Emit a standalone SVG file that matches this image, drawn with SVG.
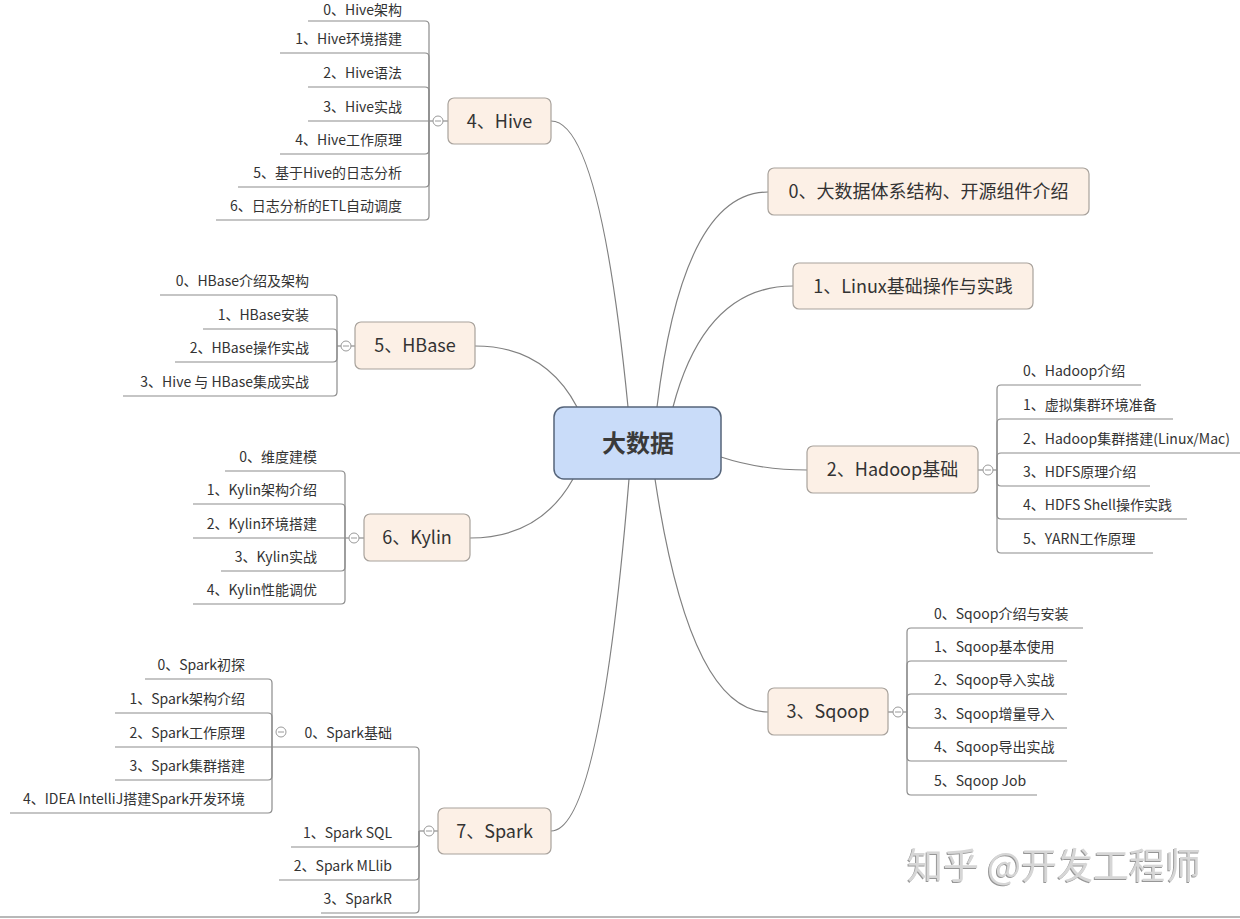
<svg xmlns="http://www.w3.org/2000/svg" width="1240" height="919" viewBox="0 0 1240 919">
<style>
text { font-family: "Noto Sans CJK SC", "Noto Sans", "Liberation Sans", sans-serif; fill: #333; }
.box { fill: #fcf0e6; stroke: #a8a29c; stroke-width: 1.2; }
.t1 { font-size: 18px; text-anchor: middle; }
.t2 { font-size: 14px; }
.l { text-anchor: end; }
.conn path { fill: none; stroke: #808080; stroke-width: 1.2; }
.sub path { fill: none; stroke: #8c8c8c; stroke-width: 1.2; }
.col circle { fill: #fff; stroke: #9a9a9a; stroke-width: 1; }
.col path { stroke: #9a9a9a; stroke-width: 1; }
</style>
<defs>
<filter id="sh" x="-5%" y="-20%" width="110%" height="140%">
<feDropShadow dx="-1" dy="1" stdDeviation="0.4" flood-color="#8a8a8a" flood-opacity="0.9"/>
</filter>
</defs>
<rect x="0" y="0" width="1240" height="919" fill="#fff"/>
<line x1="0" y1="917" x2="1240" y2="917" stroke="#a0a0a0" stroke-width="1.5"/>

<g id="connectors">
<g class="conn">
<path d="M628,407 Q600,121 551,121"/>
<path d="M657,407 Q683,192 768,192"/>
<path d="M673,407 Q705,286 793,286"/>
<path d="M577,407 Q545,346 475,346"/>
<path d="M721,457 Q760,470 807,470"/>
<path d="M573,479 Q540,538 470,538"/>
<path d="M629,479 Q600,831 551,831"/>
<path d="M655,479 Q690,712 768,712"/>
</g>
<g class="sub">
<!-- Hive -->
<path d="M448,121 H429"/>
<path d="M429,121 V25 Q429,21 425,21 H308"/>
<path d="M429,121 V57 Q429,53 425,53 H280"/>
<path d="M429,121 V91 Q429,87 425,87 H308"/>
<path d="M429,121 H308"/>
<path d="M429,121 V150 Q429,154 425,154 H280"/>
<path d="M429,121 V183 Q429,187 425,187 H238"/>
<path d="M429,121 V216 Q429,220 425,220 H216"/>
<!-- HBase -->
<path d="M355,346 H337"/>
<path d="M337,346 V299 Q337,295 333,295 H160"/>
<path d="M337,346 V333 Q337,329 333,329 H203"/>
<path d="M337,346 V358 Q337,362 333,362 H175"/>
<path d="M337,346 V392 Q337,396 333,396 H123"/>
<!-- Kylin -->
<path d="M364,538 H345"/>
<path d="M345,538 V475 Q345,471 341,471 H225"/>
<path d="M345,538 V508 Q345,504 341,504 H193"/>
<path d="M345,538 H193"/>
<path d="M345,538 V567 Q345,571 341,571 H221"/>
<path d="M345,538 V600 Q345,604 341,604 H193"/>
<!-- Spark -->
<path d="M438,831 H419"/>
<path d="M419,831 V751 Q419,747 415,747 H272"/>
<path d="M419,831 V843 Q419,847 415,847 H291"/>
<path d="M419,831 V876 Q419,880 415,880 H279"/>
<path d="M419,831 V909 Q419,913 415,913 H321"/>
<!-- Spark basics -->
<path d="M272,747 V683 Q272,679 268,679 H145"/>
<path d="M272,747 V717 Q272,713 268,713 H115"/>
<path d="M272,747 H115"/>
<path d="M272,747 V776 Q272,780 268,780 H115"/>
<path d="M272,747 V809 Q272,813 268,813 H10"/>
<!-- Hadoop -->
<path d="M978,470 H997"/>
<path d="M997,470 V389 Q997,385 1001,385 H1141"/>
<path d="M997,470 V423 Q997,419 1001,419 H1173"/>
<path d="M997,470 V457 Q997,453 1001,453 H1240"/>
<path d="M997,470 V482 Q997,486 1001,486 H1150"/>
<path d="M997,470 V515 Q997,519 1001,519 H1187"/>
<path d="M997,470 V549 Q997,553 1001,553 H1153"/>
<!-- Sqoop -->
<path d="M888,712 H907"/>
<path d="M907,712 V632 Q907,628 911,628 H1083"/>
<path d="M907,712 V665 Q907,661 911,661 H1067"/>
<path d="M907,712 V698 Q907,694 911,694 H1067"/>
<path d="M907,712 V724 Q907,728 911,728 H1067"/>
<path d="M907,712 V757 Q907,761 911,761 H1067"/>
<path d="M907,712 V791 Q907,795 911,795 H1037"/>
</g>
<g class="col">
<circle cx="438" cy="121" r="5"/><path d="M435,121 H441"/>
<circle cx="346" cy="346" r="5"/><path d="M343,346 H349"/>
<circle cx="354" cy="538" r="5"/><path d="M351,538 H357"/>
<circle cx="429" cy="831" r="5"/><path d="M426,831 H432"/>
<circle cx="281" cy="732" r="5"/><path d="M278,732 H284"/>
<circle cx="988" cy="470" r="5"/><path d="M985,470 H991"/>
<circle cx="898" cy="712" r="5"/><path d="M895,712 H901"/>
</g>
</g>

<g id="center">
<rect x="554" y="407" width="167" height="72" rx="10" fill="#c9dcf9" stroke="#55647a" stroke-width="1.5"/>
<text x="638" y="452" font-size="24" font-weight="bold" text-anchor="middle" style="fill:#3a3a3a">大数据</text>
</g>

<g id="n0">
<rect class="box" x="768" y="168" width="321" height="47" rx="6"/>
<text class="t1" x="928.5" y="198">0、大数据体系结构、开源组件介绍</text>
</g>
<g id="n1">
<rect class="box" x="793" y="263" width="240" height="46" rx="6"/>
<text class="t1" x="913" y="292.5">1、Linux基础操作与实践</text>
</g>
<g id="n2">
<rect class="box" x="807" y="446" width="171" height="47" rx="6"/>
<text class="t1" x="892.5" y="476">2、Hadoop基础</text>
<g class="t2">
<text x="1023" y="376">0、Hadoop介绍</text>
<text x="1023" y="410">1、虚拟集群环境准备</text>
<text x="1023" y="444">2、Hadoop集群搭建(Linux/Mac)</text>
<text x="1023" y="477">3、HDFS原理介绍</text>
<text x="1023" y="510">4、HDFS Shell操作实践</text>
<text x="1023" y="544">5、YARN工作原理</text>
</g>
</g>
<g id="n3">
<rect class="box" x="768" y="688" width="120" height="47" rx="6"/>
<text class="t1" x="828" y="718">3、Sqoop</text>
<g class="t2">
<text x="934" y="619">0、Sqoop介绍与安装</text>
<text x="934" y="652">1、Sqoop基本使用</text>
<text x="934" y="685">2、Sqoop导入实战</text>
<text x="934" y="719">3、Sqoop增量导入</text>
<text x="934" y="752">4、Sqoop导出实战</text>
<text x="934" y="786">5、Sqoop Job</text>
</g>
</g>
<g id="n4">
<rect class="box" x="448" y="98" width="103" height="46" rx="6"/>
<text class="t1" x="499.5" y="127.5">4、Hive</text>
<g class="t2 l">
<text x="402" y="15">0、Hive架构</text>
<text x="402" y="44">1、Hive环境搭建</text>
<text x="402" y="78">2、Hive语法</text>
<text x="402" y="112">3、Hive实战</text>
<text x="402" y="145">4、Hive工作原理</text>
<text x="402" y="178">5、基于Hive的日志分析</text>
<text x="402" y="211">6、日志分析的ETL自动调度</text>
</g>
</g>
<g id="n5">
<rect class="box" x="355" y="322" width="120" height="47" rx="6"/>
<text class="t1" x="415" y="352">5、HBase</text>
<g class="t2 l">
<text x="309" y="286">0、HBase介绍及架构</text>
<text x="309" y="320">1、HBase安装</text>
<text x="309" y="353">2、HBase操作实战</text>
<text x="309" y="387">3、Hive 与 HBase集成实战</text>
</g>
</g>
<g id="n6">
<rect class="box" x="364" y="514" width="106" height="47" rx="6"/>
<text class="t1" x="417" y="544">6、Kylin</text>
<g class="t2 l">
<text x="317" y="462">0、维度建模</text>
<text x="317" y="495">1、Kylin架构介绍</text>
<text x="317" y="529">2、Kylin环境搭建</text>
<text x="317" y="562">3、Kylin实战</text>
<text x="317" y="595">4、Kylin性能调优</text>
</g>
</g>
<g id="n7">
<rect class="box" x="438" y="808" width="113" height="46" rx="6"/>
<text class="t1" x="494.5" y="837.5">7、Spark</text>
<g class="t2 l">
<text x="392" y="738">0、Spark基础</text>
<text x="392" y="838">1、Spark SQL</text>
<text x="392" y="871">2、Spark MLlib</text>
<text x="392" y="904">3、SparkR</text>
</g>
<g class="t2 l">
<text x="245" y="670">0、Spark初探</text>
<text x="245" y="704">1、Spark架构介绍</text>
<text x="245" y="738">2、Spark工作原理</text>
<text x="245" y="771">3、Spark集群搭建</text>
<text x="245" y="804">4、IDEA IntelliJ搭建Spark开发环境</text>
</g>
</g>

<g id="watermark">
<text x="907" y="879" font-size="36" filter="url(#sh)" style="fill:#d6d6d6">知乎 @开发工程师</text>
</g>
</svg>
